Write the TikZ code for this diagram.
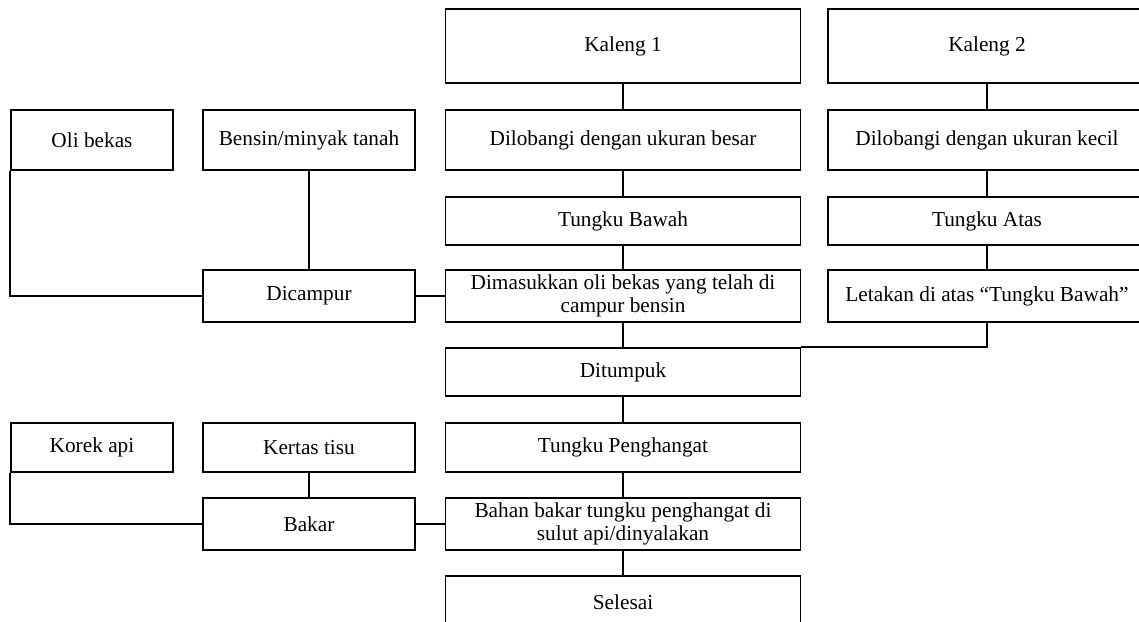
\documentclass[tikz,border=0pt]{standalone}
\usepackage{fontspec}
\setmainfont{Liberation Serif}
\usetikzlibrary{positioning}

\tikzset{kotak/.style={draw, line width=1.8pt, align=center, inner sep=2pt,
  font=\fontsize{21.3}{23}\selectfont}}

\begin{document}
\begin{tikzpicture}[x=1pt, y=-1pt, line width=2pt]
\clip (0,0) rectangle (1139,621);
% kolom tengah dan kanan
\foreach \nm/\x/\y/\w/\h/\teks in {
    kal1/623/46/355/74/{Kaleng 1},
    kal2/987/46/318/74/{Kaleng 2},
    lobbesar/623/140/355/60/{Dilobangi dengan ukuran besar},
    lobkecil/987/140/318/60/{Dilobangi dengan ukuran kecil},
    twbawah/623/221/355/48/{Tungku Bawah},
    twatas/987/221/318/48/{Tungku Atas},
    masuk/623/296/355/52/{Dimasukkan oli bekas yang telah di\\campur bensin},
    letak/987/296/318/52/{Letakan di atas “Tungku Bawah”},
    tumpuk/623/372/355/48/{Ditumpuk},
    hangat/623/447.5/355/49/{Tungku Penghangat},
    bahan/623/524/355/52/{Bahan bakar tungku penghangat di\\sulut api/dinyalakan},
    selesai/623/602/355/52/{Selesai}}{
  \node[kotak, minimum width=\w pt, minimum height=\h pt] (\nm) at (\x,\y) {\teks};
}
% bahan di kiri
\foreach \nm/\x/\y/\w/\h/\teks in {
    oli/92/140/162/60/{Oli bekas},
    bensin/309/140/212/60/{Bensin/minyak tanah},
    campur/309/296/212/52/{Dicampur},
    korek/92/447.5/162/49/{Korek api},
    tisu/309/447.5/212/49/{Kertas tisu},
    bakar/309/524/212/52/{Bakar}}{
  \node[kotak, minimum width=\w pt, minimum height=\h pt] (\nm) at (\x,\y) {\teks};
}
\draw (kal1) -- (lobbesar) -- (twbawah) -- (masuk) -- (tumpuk) -- (hangat) -- (bahan) -- (selesai);
\draw (kal2) -- (lobkecil) -- (twatas) -- (letak);
\draw (letak.south) |- (tumpuk.north east);
\draw (bensin) -- (campur);
\draw (oli.south west) |- (campur.west);
\draw (campur) -- (masuk);
\draw (tisu) -- (bakar);
\draw (korek.south west) |- (bakar.west);
\draw (bakar) -- (bahan);
\end{tikzpicture}
\end{document}
